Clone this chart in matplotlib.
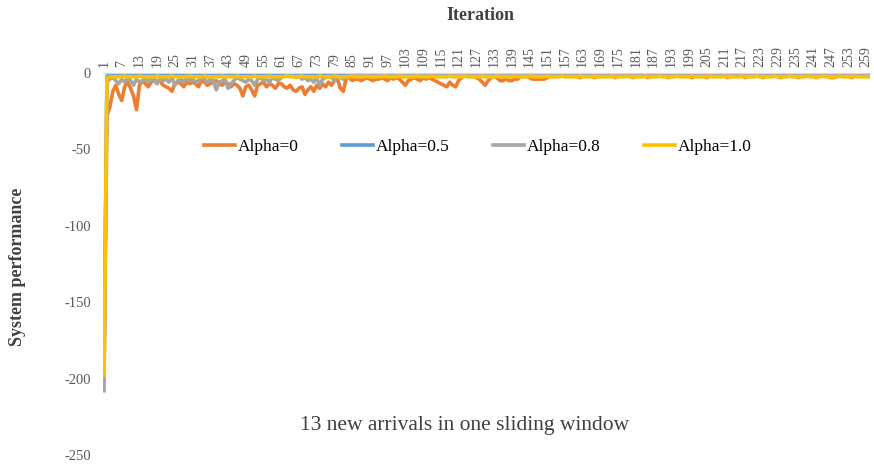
"""
System performance per iteration for several alpha values (13 new arrivals per window)
"""

import matplotlib
matplotlib.use("Agg")
import matplotlib.pyplot as plt
import numpy as np

plt.rcParams["font.family"] = ["Liberation Serif", "DejaVu Serif"]

# values, one per iteration (1..260)
alpha_0 = [
    -200, -28, -22, -12, -8, -14, -18, -9, -6, -10, -15, -24, -8, -5, -7, -9, -6, -4, -6, -5,
    -8, -9, -10, -12, -7, -6, -7, -9, -6, -7, -6, -7, -9, -5, -6, -8, -7, -6, -5, -7,
    -8, -6, -7, -9, -7, -8, -10, -15, -9, -8, -11, -15, -8, -7, -6, -9, -7, -8, -10, -7,
    -7, -9, -10, -8, -11, -12, -10, -9, -14, -11, -9, -12, -8, -10, -7, -9, -6, -8, -5, -4,
    -10, -12, -3, -3, -5, -4, -4, -5, -4, -3, -4, -5, -4, -4, -3, -4, -5, -3, -4, -3,
    -4, -6, -8, -5, -4, -3, -4, -5, -3, -4, -3, -4, -5, -6, -7, -8, -9, -6, -8, -9,
    -5, -3, -2, -2, -2, -2, -3, -4, -6, -8, -5, -3, -2, -3, -5, -5, -4, -5, -5, -4,
    -4, -2, -2, -2, -3, -4, -4, -4, -4, -4, -3, -2, -2, -1, -2, -1, -1, -2, -1, -1,
    -2, -3, -2, -1, -2, -2, -3, -2, -1, -2, -2, -1, -2, -3, -2, -2, -1, -2, -2, -3,
    -2, -1, -2, -2, -3, -2, -2, -1, -2, -2, -2, -3, -2, -1, -2, -2, -2, -1, -2, -3,
    -2, -2, -1, -2, -3, -2, -2, -2, -1, -2, -2, -3, -2, -2, -1, -2, -2, -3, -2, -2,
    -1, -2, -2, -3, -2, -2, -2, -1, -2, -3, -2, -2, -1, -2, -2, -3, -2, -2, -2, -1,
    -2, -3, -2, -2, -1, -2, -3, -3, -2, -2, -1, -2, -2, -3, -2, -2, -1, -2, -2, -2,
]
alpha_05 = [
    -190, -2, -1.5, -1, -1, -1.5, -1, -1, -0.5, -1, -1, -1.5, -1, -1, -0.5, -1, -1, -1, -1.5, -1,
    -1, -0.5, -1, -1, -1, -1.5, -1, -1, -1, -0.5, -1, -1, -1, -1, -1.5, -1, -1, -0.5, -1, -1,
    -1, -1, -1.5, -1, -1, -1, -0.5, -1, -1, -1, -1, -1.5, -1, -1, -1, -0.5, -1, -1, -1, -1,
    -1.5, -1, -1, -1, -0.5, -1, -1, -1, -1, -1.5, -1, -1, -0.5, -1, -1, -1, -1, -1.5, -1, -1,
    -1, -0.5, -1, -1, -1, -1, -1.5, -1, -1, -1, -0.5, -1, -1, -1, -1, -1.5, -1, -1, -1, -0.5,
    -1, -1, -1, -1, -1.5, -1, -1, -1, -0.5, -1, -1, -1, -1, -1.5, -1, -1, -1, -0.5, -1, -1,
    -1, -1, -1.5, -1, -1, -1, -0.5, -1, -1, -1, -1, -1.5, -1, -1, -1, -0.5, -1, -1, -1, -1,
    -1.5, -1, -1, -1, -0.5, -1, -1, -1, -1, -1.5, -1, -1, -1, -0.5, -1, -1, -1, -1, -1.5, -1,
    -1, -1, -0.5, -1, -1, -1, -1, -1.5, -1, -1, -1, -0.5, -1, -1, -1, -1, -1.5, -1, -1, -1,
    -0.5, -1, -1, -1, -1, -1.5, -1, -1, -1, -0.5, -1, -1, -1, -1, -1.5, -1, -1, -1, -0.5, -1,
    -1, -1, -1, -1.5, -1, -1, -1, -0.5, -1, -1, -1, -1, -1.5, -1, -1, -1, -0.5, -1, -1, -1,
    -1, -1.5, -1, -1, -1, -0.5, -1, -1, -1, -1, -1.5, -1, -1, -1, -0.5, -1, -1, -1, -1, -1.5,
    -1, -1, -1, -0.5, -1, -1, -1, -1, -1.5, -1, -1, -1, -0.5, -1, -1, -1, -1, -1.5, -1, -1,
]
alpha_08 = [
    -208, -6, -4, -3, -5, -7, -4, -6, -3, -5, -8, -4, -6, -5, -3, -6, -4, -5, -7, -3,
    -5, -4, -6, -3, -8, -5, -4, -6, -3, -5, -4, -6, -5, -3, -4, -6, -4, -5, -11, -6,
    -5, -4, -10, -7, -5, -3, -4, -5, -6, -4, -5, -8, -4, -3, -5, -4, -6, -3, -4, -5,
    -3, -2, -1, -1, -2, -3, -2, -4, -3, -5, -4, -6, -3, -8, -4, -3, -2, -3, -5, -2,
    -3, -4, -2, -2, -1, -2, -1, -1, -2, -1, -1, -1, -1, -2, -1, -1, -1, -1, -1, -1,
    -1, -0.5, -1, -1, -1.5, -1, -0.5, -1, -1, -1, -1.5, -1, -1, -0.5, -1, -1, -1, -1.5, -1, -1,
    -0.5, -1, -1, -1, -1.5, -1, -1, -0.5, -1, -1, -1, -1, -1.5, -1, -0.5, -1, -1, -1, -1, -1.5,
    -1, -0.5, -1, -1, -1, -1.5, -1, -1, -0.5, -1, -1, -1, -1.5, -1, -1, -0.5, -1, -1, -1, -1,
    -1.5, -1, -0.5, -1, -1, -1, -1, -1.5, -1, -1, -0.5, -1, -1, -1, -1.5, -1, -1, -0.5, -1, -1,
    -1, -1, -1.5, -1, -0.5, -1, -1, -1, -1, -1.5, -1, -1, -0.5, -1, -1, -1, -1.5, -1, -1, -0.5,
    -1, -1, -1, -1, -1.5, -1, -0.5, -1, -1, -1, -1, -1.5, -1, -1, -0.5, -1, -1, -1, -1.5, -1,
    -1, -0.5, -1, -1, -1, -1, -1.5, -1, -0.5, -1, -1, -1, -1, -1.5, -1, -1, -0.5, -1, -1, -1,
    -1.5, -1, -1, -0.5, -1, -1, -1, -1, -1.5, -1, -0.5, -1, -1, -1, -1, -1.5, -1, -1, -0.5, -1,
]
alpha_10 = [
    -198, -3, -2.5, -2.5, -2.5, -2.5, -2.5, -2, -2.5, -2.5, -2.5, -2.5, -2, -2.5, -2.5, -2.5, -2.5, -2.5, -2, -2.5,
    -2.5, -2.5, -2.5, -2, -2.5, -2.5, -2.5, -2.5, -2.5, -2, -2.5, -2.5, -2.5, -2.5, -2, -2.5, -2.5, -2.5, -2.5, -2.5,
    -2, -2.5, -2.5, -2.5, -2.5, -2, -2.5, -2.5, -2.5, -2.5, -2.5, -2, -2.5, -2.5, -2.5, -2.5, -2, -2.5, -2.5, -2.5,
    -2.5, -2.5, -2, -2.5, -2.5, -2.5, -2.5, -2, -2.5, -2.5, -2.5, -2.5, -2.5, -2, -2.5, -2.5, -2.5, -2.5, -2, -2.5,
    -2.5, -2.5, -2.5, -2.5, -2, -2.5, -2.5, -2.5, -2.5, -2, -2.5, -2.5, -2.5, -2.5, -2.5, -2, -2.5, -2.5, -2.5, -2.5,
    -2, -2.5, -2.5, -2.5, -2.5, -2.5, -2, -2.5, -2.5, -2.5, -2.5, -2, -2.5, -2.5, -2.5, -2.5, -2.5, -2, -2.5, -2.5,
    -2.5, -2.5, -2, -2.5, -2.5, -2.5, -2.5, -2.5, -2, -2.5, -2.5, -2.5, -2.5, -2, -2.5, -2.5, -2.5, -2.5, -2.5, -2,
    -2.5, -2.5, -2.5, -2.5, -2, -2.5, -2.5, -2.5, -2.5, -2.5, -2, -2.5, -2.5, -2.5, -2.5, -2, -2.5, -2.5, -2.5, -2.5,
    -2.5, -2, -2.5, -2.5, -2.5, -2.5, -2, -2.5, -2.5, -2.5, -2.5, -2.5, -2, -2.5, -2.5, -2.5, -2.5, -2, -2.5, -2.5,
    -2.5, -2.5, -2.5, -2, -2.5, -2.5, -2.5, -2.5, -2, -2.5, -2.5, -2.5, -2.5, -2.5, -2, -2.5, -2.5, -2.5, -2.5, -2,
    -2.5, -2.5, -2.5, -2.5, -2.5, -2, -2.5, -2.5, -2.5, -2.5, -2, -2.5, -2.5, -2.5, -2.5, -2.5, -2, -2.5, -2.5, -2.5,
    -2.5, -2, -2.5, -2.5, -2.5, -2.5, -2.5, -2, -2.5, -2.5, -2.5, -2.5, -2, -2.5, -2.5, -2.5, -2.5, -2.5, -2, -2.5,
    -2.5, -2.5, -2.5, -2, -2.5, -2.5, -2.5, -2.5, -2.5, -2, -2.5, -2.5, -2.5, -2.5, -2, -2.5, -2.5, -2.5, -2.5, -2.5,
]
iterations = np.arange(1, len(alpha_0) + 1)
tick_iters = iterations[::6]
y_ticks = [0, -50, -100, -150, -200, -250]

series = [
    ("Alpha=0", alpha_0, "#ED7D31"),
    ("Alpha=0.5", alpha_05, "#5B9BD5"),
    ("Alpha=0.8", alpha_08, "#A5A5A5"),
    ("Alpha=1.0", alpha_10, "#FFC000"),
]

fig = plt.figure(figsize=(8.74, 4.65), dpi=100)
ax = fig.add_axes([0.1183, 0.0215, 0.877, 0.8215])

for label, vals, color in series:
    ax.plot(iterations, vals, color=color, linewidth=2.6, label=label, solid_joinstyle="round")

ax.set_xlim(0.8, len(iterations) + 0.2)
ax.set_ylim(-250, 0)

# category axis labels sit on top, like the spreadsheet chart
ax.xaxis.tick_top()
ax.set_xticks(tick_iters)
ax.set_xticklabels([str(t) for t in tick_iters], rotation=90, fontsize=10, color="#595959")
ax.set_yticks(y_ticks)
ax.set_yticklabels([str(t) for t in y_ticks], fontsize=10.5, color="#595959")
ax.tick_params(axis="x", length=0, pad=4)
ax.tick_params(axis="y", length=0, pad=9)

for side in ["left", "right", "bottom"]:
    ax.spines[side].set_visible(False)
ax.spines["top"].set_color("#D9D9D9")
ax.spines["top"].set_linewidth(0.9)

ax.legend(loc="center", bbox_to_anchor=(478 / 874, 1 - 147 / 465),
          bbox_transform=fig.transFigure, ncol=4, frameon=False, fontsize=12.5,
          handlelength=1.8, handletextpad=0.15, columnspacing=2.5)

fig.text(480 / 874, 1 - 16 / 465, "Iteration", ha="center", va="center",
         fontsize=13, fontweight="bold", color="#404040")
fig.text(18 / 874, 1 - 267 / 465, "System performance", ha="center", va="center",
         rotation=90, fontsize=13, fontweight="bold", color="#404040")
fig.text(465 / 874, 1 - 425 / 465, "13 new arrivals in one sliding window",
         ha="center", va="center", fontsize=15.5, color="#404040")

plt.savefig("out.png", dpi=100)
